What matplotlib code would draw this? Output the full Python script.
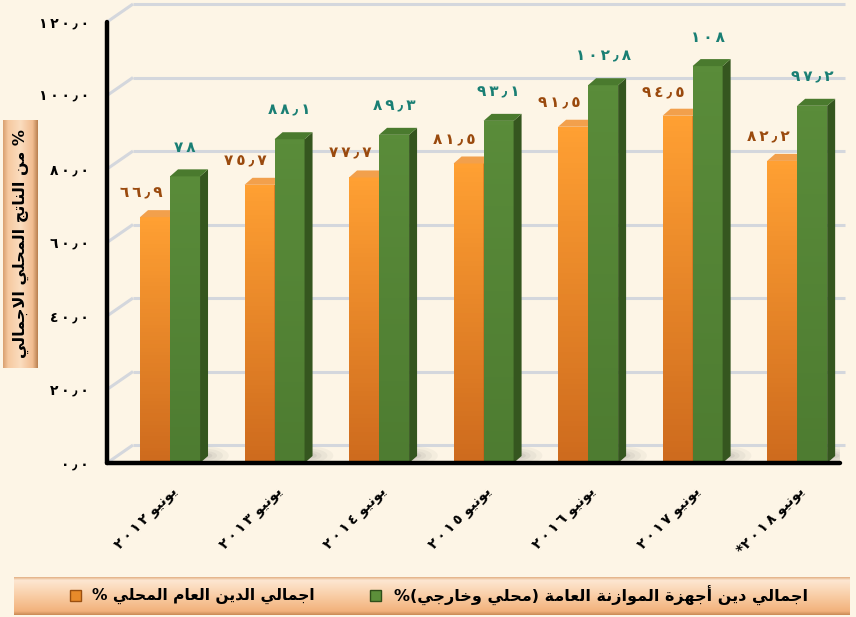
"""Debt to GDP bar chart (Arabic labels) with a faux 3D look."""
import numpy as np
import matplotlib
matplotlib.use("Agg")
import matplotlib.pyplot as plt
from matplotlib.colors import LinearSegmentedColormap
from matplotlib.patches import Polygon, Rectangle, Ellipse
from matplotlib.transforms import ScaledTranslation

categories = ["يونيو ٢٠١٢", "يونيو ٢٠١٣", "يونيو ٢٠١٤", "يونيو ٢٠١٥",
              "يونيو ٢٠١٦", "يونيو ٢٠١٧", "يونيو ٢٠١٨*"]
domestic_debt = [66.9, 75.7, 77.7, 81.5, 91.5, 94.5, 82.2]
budget_debt = [78, 88.1, 89.3, 93.1, 102.8, 108, 97.2]
y_ticks = [0, 20, 40, 60, 80, 100, 120]
y_title = "% من الناتج المحلي الاجمالي"
domestic_name = "اجمالي الدين العام المحلي %"
budget_name = "اجمالي دين أجهزة الموازنة العامة (محلي وخارجي)%"

BG = "#FDF5E6"
GRID = "#D4D7DD"
ORANGE = ("#CE6B1E", "#FFA033", "#B9591A", "#F2A04C")   # bottom, top, side, cap
GREEN = ("#4E7C31", "#5A8C3A", "#35561F", "#4A7A2E")
BROWN = "#9A4A0E"
TEAL = "#1A7F74"
THIN = "\u2009"

# presentation forms: isolated, final, initial, medial
FORMS = {
    "ا": ("\uFE8D", "\uFE8E"), "أ": ("\uFE83", "\uFE84"),
    "ة": ("\uFE93", "\uFE94"), "د": ("\uFEA9", "\uFEAA"),
    "ر": ("\uFEAD", "\uFEAE"), "ز": ("\uFEAF", "\uFEB0"),
    "و": ("\uFEED", "\uFEEE"),
    "ت": ("\uFE95", "\uFE96", "\uFE97", "\uFE98"),
    "ج": ("\uFE9D", "\uFE9E", "\uFE9F", "\uFEA0"),
    "ح": ("\uFEA1", "\uFEA2", "\uFEA3", "\uFEA4"),
    "خ": ("\uFEA5", "\uFEA6", "\uFEA7", "\uFEA8"),
    "ع": ("\uFEC9", "\uFECA", "\uFECB", "\uFECC"),
    "ل": ("\uFEDD", "\uFEDE", "\uFEDF", "\uFEE0"),
    "م": ("\uFEE1", "\uFEE2", "\uFEE3", "\uFEE4"),
    "ن": ("\uFEE5", "\uFEE6", "\uFEE7", "\uFEE8"),
    "ه": ("\uFEE9", "\uFEEA", "\uFEEB", "\uFEEC"),
    "ي": ("\uFEF1", "\uFEF2", "\uFEF3", "\uFEF4"),
}
LAM_ALEF = {"ا": ("\uFEFB", "\uFEFC"), "أ": ("\uFEF7", "\uFEF8")}
NUMERIC = set("٠١٢٣٤٥٦٧٨٩٫")
MIRROR = {"(": ")", ")": "("}


def shape(text: str) -> str:
    """Join Arabic letters and put the string in visual (left to right) order."""
    glyphs = []
    i = 0
    while i < len(text):
        ch = text[i]
        if ch not in FORMS:
            glyphs.append(ch)
            i += 1
            continue
        prev = text[i - 1] if i > 0 else ""
        joined_before = len(FORMS.get(prev, ())) == 4
        nxt = text[i + 1] if i + 1 < len(text) else ""
        if ch == "ل" and nxt in LAM_ALEF:
            glyphs.append(LAM_ALEF[nxt][1 if joined_before else 0])
            i += 2
            continue
        forms = FORMS[ch]
        joins_after = len(forms) == 4 and nxt in FORMS
        if joined_before and joins_after:
            glyphs.append(forms[3])
        elif joined_before:
            glyphs.append(forms[1])
        elif joins_after:
            glyphs.append(forms[2])
        else:
            glyphs.append(forms[0])
        i += 1

    runs = []
    for g in glyphs:
        num = g in NUMERIC
        if runs and runs[-1][0] == num:
            runs[-1][1].append(g)
        else:
            runs.append([num, [g]])
    out = []
    for num, chars in reversed(runs):
        if num:
            out.append(THIN.join(chars))   # digits are set wide in the original
        else:
            out.extend(MIRROR.get(c, c) for c in reversed(chars))
    return "".join(out)


def arabic_number(v: float, decimals: int | None = None) -> str:
    if decimals is None:
        s = str(int(v)) if float(v).is_integer() else f"{v:.1f}"
    else:
        s = f"{v:.{decimals}f}"
    return shape(s.translate(str.maketrans("0123456789.", "٠١٢٣٤٥٦٧٨٩٫")))


def gradient_image(colors, n=128, vertical=True):
    cmap = LinearSegmentedColormap.from_list("g", [(p, c) for p, c in colors])
    ramp = cmap(np.linspace(0, 1, n))[:, :3]
    if vertical:
        return ramp.reshape(n, 1, 3)
    return ramp.reshape(1, n, 3)


def draw_bars(ax, xs, values, colors, zorder, dx, dy, width):
    bottom, top, side, cap = colors
    cmap = LinearSegmentedColormap.from_list("bar", [bottom, top])
    bars = ax.bar(xs, values, width=width, color=bottom, zorder=zorder,
                  linewidth=0)
    for rect in bars:
        x0, w, h = rect.get_x(), rect.get_width(), rect.get_height()
        im = ax.imshow(np.linspace(1, 0, 64).reshape(-1, 1), cmap=cmap,
                       extent=(x0, x0 + w, 0, h), aspect="auto",
                       zorder=zorder, vmin=0, vmax=1)
        im.set_clip_path(rect)
        ax.add_patch(Polygon([(x0 + w, 0), (x0 + w + dx, dy),
                              (x0 + w + dx, h + dy), (x0 + w, h)],
                             closed=True, fc=side, ec="none", zorder=zorder))
        ax.add_patch(Polygon([(x0, h), (x0 + dx, h + dy),
                              (x0 + w + dx, h + dy), (x0 + w, h)],
                             closed=True, fc=cap, ec="none", zorder=zorder))
    return bars


def main():
    plt.rcParams["font.family"] = ["DejaVu Sans"]
    plt.rcParams["font.weight"] = "bold"

    W, H = 856, 617
    fig = plt.figure(figsize=(W / 100, H / 100), dpi=100, facecolor=BG)

    # main plot area in pixel terms
    left, right, top, bottom = 107, 840, 22, 463
    ax = fig.add_axes([left / W, 1 - bottom / H, (right - left) / W,
                       (bottom - top) / H])
    ax.set_facecolor("none")

    x = np.arange(len(categories))
    xmin, xmax = -0.603, len(categories) - 1 + 0.41
    ymin, ymax = 0, 120
    px_x = (right - left) / (xmax - xmin)
    px_y = (bottom - top) / (ymax - ymin)

    # back wall gridlines (perspective offset)
    gdx, gdy = 26 / px_x, 18 / px_y
    for v in y_ticks:
        ax.plot([xmin, xmin + gdx], [v, v + gdy], color=GRID, lw=2.2,
                zorder=1, clip_on=False, solid_capstyle="butt")
        ax.plot([xmin + gdx, xmax + 0.05], [v + gdy, v + gdy], color=GRID,
                lw=2.2, zorder=1, clip_on=False, solid_capstyle="butt")

    width = 30 / px_x
    dx, dy = 8 / px_x, 7 / px_y

    # soft floor shadows
    for xi in x:
        for k, a in zip((1.0, 0.75, 0.5, 0.3), (0.06, 0.07, 0.08, 0.10)):
            ax.add_patch(Ellipse((xi + width + 0.05, 2.0), 0.45 * k, 5.0 * k,
                                 fc="#6E6E6E", ec="none", alpha=a, zorder=2))

    draw_bars(ax, x - width / 2, domestic_debt, ORANGE, 3, dx, dy, width)
    draw_bars(ax, x + width / 2, budget_debt, GREEN, 4, dx, dy, width)

    for xi, v in zip(x, domestic_debt):
        ax.annotate(arabic_number(v), (xi - width / 2, v), xytext=(-14, 24),
                    textcoords="offset pixels", ha="center", va="center",
                    fontsize=11, color=BROWN, fontweight="bold", zorder=6)
    for xi, v in zip(x, budget_debt):
        ax.annotate(arabic_number(v), (xi + width / 2, v), xytext=(0, 29),
                    textcoords="offset pixels", ha="center", va="center",
                    fontsize=11, color=TEAL, fontweight="bold", zorder=6)

    ax.set_xlim(xmin, xmax)
    ax.set_ylim(ymin, ymax)
    ax.set_yticks(y_ticks)
    ax.set_yticklabels([arabic_number(v, 1) for v in y_ticks],
                       fontsize=10, fontweight="bold")
    ax.set_xticks(x)
    ax.set_xticklabels([shape(c) for c in categories], rotation=45,
                       ha="right", va="top", rotation_mode="anchor",
                       fontsize=10.2, fontweight="bold")
    shift = ScaledTranslation(-0.12, 0.03, fig.dpi_scale_trans)
    for lbl in ax.get_xticklabels():
        lbl.set_transform(lbl.get_transform() + shift)
    ax.tick_params(axis="y", length=0, pad=13)
    ax.tick_params(axis="x", length=0, pad=15)
    for s in ("top", "right"):
        ax.spines[s].set_visible(False)
    for s in ("left", "bottom"):
        ax.spines[s].set_linewidth(3.2)
        ax.spines[s].set_capstyle("round")
        ax.spines[s].set_zorder(7)

    # y title box
    tax = fig.add_axes([3 / W, 1 - 368 / H, 35 / W, 248 / H])
    tax.imshow(gradient_image([(0, "#D9A070"), (0.15, "#F6C9A0"),
                               (0.5, "#FBDDBF"), (0.85, "#F1BC90"),
                               (1, "#B98050")], vertical=False),
               aspect="auto", extent=(0, 1, 0, 1))
    tax.set_axis_off()
    tax.text(0.5, 0.5, shape(y_title), rotation=90, ha="center", va="center",
             fontsize=11.5, fontweight="bold", transform=tax.transAxes)

    # legend strip
    lax = fig.add_axes([14 / W, 1 - 615 / H, (850 - 14) / W, 38 / H])
    lax.set_xlim(14, 850)
    lax.set_ylim(615, 577)
    lax.imshow(gradient_image([(0, "#E2AF84"), (0.08, "#FDE7D2"),
                               (0.5, "#F9CDA5"), (0.9, "#F2B27C"),
                               (1, "#C98A55")]),
               aspect="auto", extent=(14, 850, 615, 577))
    lax.set_axis_off()
    for mx, col, edge in ((70, "#E88A2A", "#9A4F10"), (370, "#5C8F3A", "#2F4E1A")):
        lax.add_patch(Rectangle((mx, 590), 11, 11, fc=col, ec=edge, lw=1))
    lax.text(315, 596, shape(domestic_name), ha="right", va="center",
             fontsize=11.2, fontweight="bold")
    lax.text(808, 596, shape(budget_name), ha="right", va="center",
             fontsize=11.5, fontweight="bold")

    fig.savefig("out.png", dpi=100, facecolor=BG)


if __name__ == "__main__":
    main()
